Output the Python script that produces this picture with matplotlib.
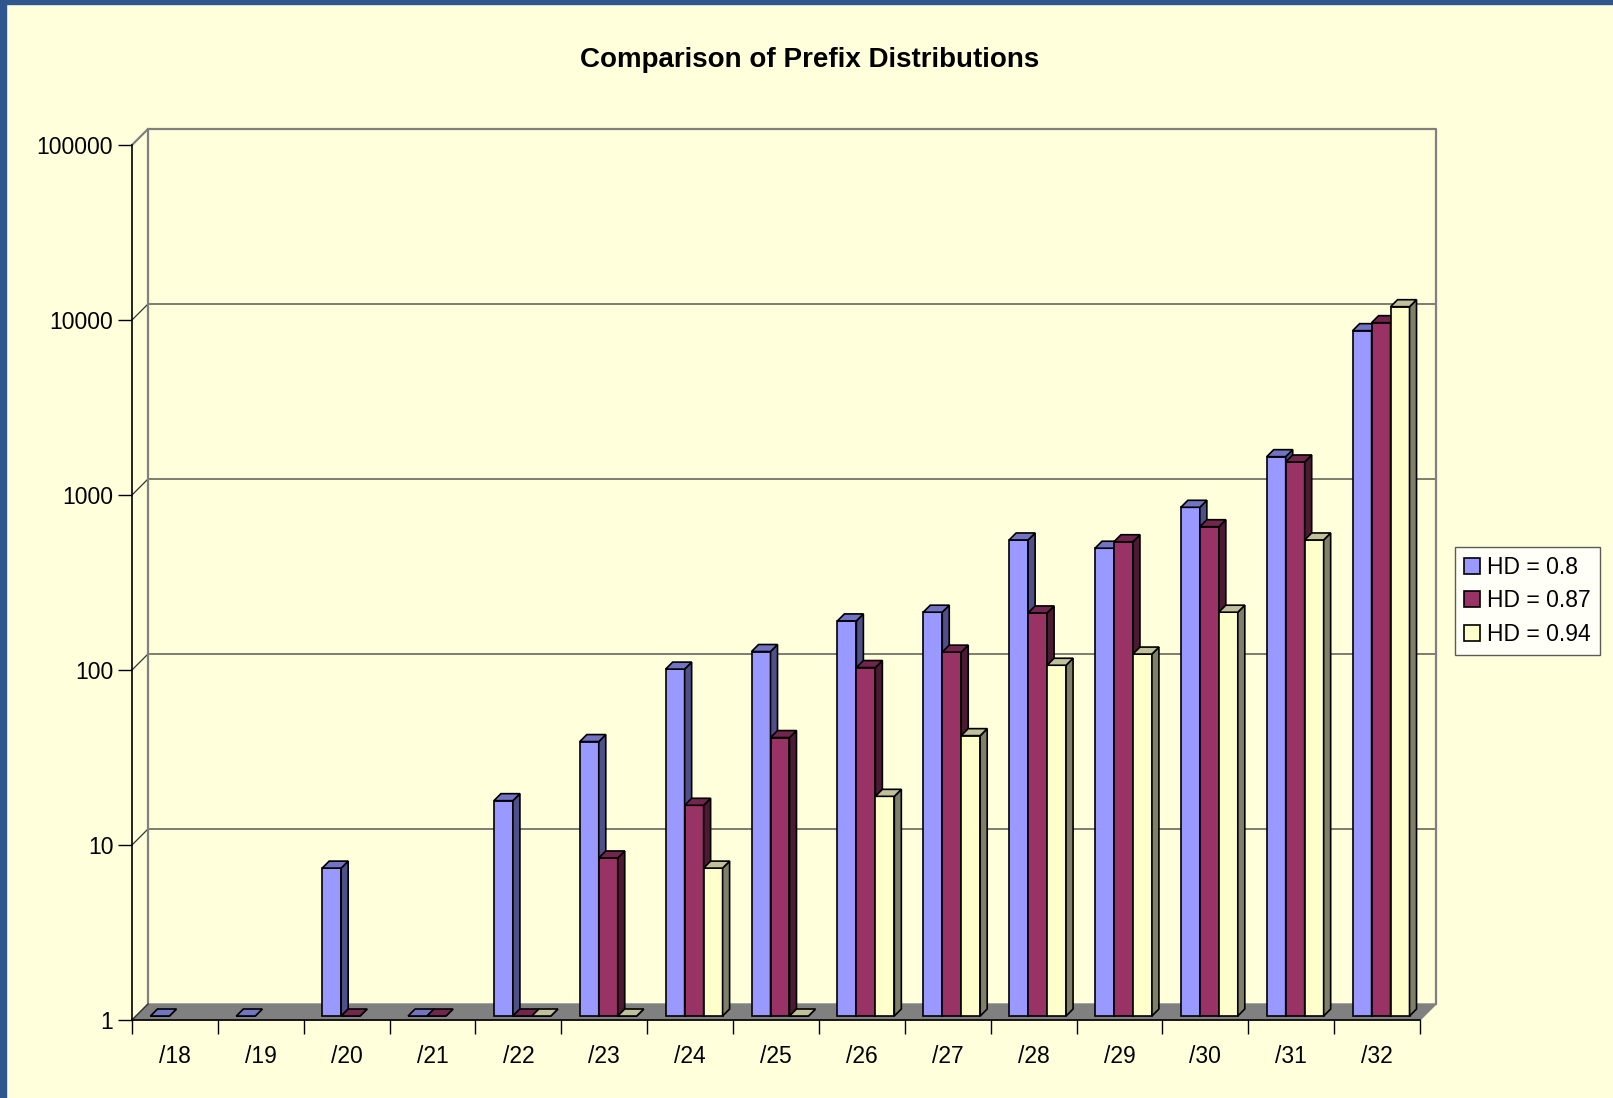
import numpy as np
import matplotlib
matplotlib.use('Agg')
import matplotlib.pyplot as plt
from matplotlib.patches import Polygon, Rectangle, Patch
from matplotlib.lines import Line2D
from matplotlib.transforms import IdentityTransform, ScaledTranslation
from matplotlib.ticker import LogLocator, NullLocator, FuncFormatter

prefixes = ['/18', '/19', '/20', '/21', '/22', '/23', '/24', '/25',
            '/26', '/27', '/28', '/29', '/30', '/31', '/32']
hd_080 = [1, 1, 7, 1, 17, 37, 96, 121, 181, 203, 525, 471, 807, 1571, 8245]
hd_087 = [np.nan, np.nan, 1, 1, 1, 8, 16, 39, 98, 120, 201, 513, 625, 1465, 9159]
hd_094 = [np.nan, np.nan, np.nan, np.nan, 1, 1, 7, 1, 18, 40, 101, 117, 203, 525, 11300]
series = [hd_080, hd_087, hd_094]
labels = ['HD = 0.8', 'HD = 0.87', 'HD = 0.94']

front_cols = ['#9999FF', '#993366', '#FFFFCC']
side_cols = ['#4F4F8A', '#4C1A33', '#80806A']
top_cols = ['#7373C4', '#73264D', '#C0C09A']

plt.rcParams['font.family'] = ['Liberation Sans', 'DejaVu Sans']

bg = '#FFFFDC'
W, H = 1613, 1098
fig = plt.figure(figsize=(W / 100, H / 100), dpi=100, facecolor=bg)
ax = fig.add_axes([132 / W, 78 / H, 1288 / W, 875 / H])
ax.set_yscale('log')
n = len(prefixes)
ax.set_xlim(0, n)
ax.set_ylim(1, 1e5)
ax.set_autoscale_on(False)
ax.patch.set_visible(False)
ax.spines['top'].set_visible(False)
ax.spines['right'].set_visible(False)
ax.spines['left'].set_linewidth(1.2)
ax.spines['bottom'].set_linewidth(1.2)

# depth offsets in pixels
wall_d = 16
bar_d0, bar_d1 = 4, 11


def disp(x, y, d):
    px, py = ax.transData.transform((x, y))
    return (px + d, py + d)


def poly(pts, **kw):
    p = Polygon(pts, closed=True, transform=IdentityTransform(), clip_on=False, **kw)
    ax.add_artist(p)


def line(pts, **kw):
    xs = [p[0] for p in pts]
    ys = [p[1] for p in pts]
    ax.add_artist(Line2D(xs, ys, transform=IdentityTransform(), clip_on=False, **kw))


# floor
poly([disp(0, 1, 0), disp(n, 1, 0), disp(n, 1, wall_d), disp(0, 1, wall_d)],
     facecolor='#808080', edgecolor='#808080', lw=1, zorder=1)

# gridlines along left wall and back wall
for d in [10, 100, 1000, 10000]:
    line([disp(0, d, 0), disp(0, d, wall_d), disp(n, d, wall_d)],
         color='#333333', lw=0.9, zorder=1.5)

# wall edges
line([disp(0, 1e5, 0), disp(0, 1e5, wall_d), disp(n, 1e5, wall_d), disp(n, 1, wall_d)],
     color='#808080', lw=1.6, zorder=1.6)
line([disp(0, 1, wall_d), disp(0, 1e5, wall_d)], color='#808080', lw=1.6, zorder=1.6)
line([disp(0, 1, 0), disp(0, 1, wall_d)], color='#333333', lw=1, zorder=1.6)

# bars
bw = 0.221
front_trf = ax.transData + ScaledTranslation(bar_d0 / 100, bar_d0 / 100, fig.dpi_scale_trans)
dd = bar_d1 - bar_d0
for k, vals in enumerate(series):
    vals = np.array(vals, dtype=float)
    ok = ~np.isnan(vals)
    xc = np.arange(n)[ok] + 0.5 + (k - 1) * bw
    v = vals[ok]
    ax.bar(xc, v - 1, bottom=1, width=bw, color=front_cols[k], edgecolor='black',
           lw=1.2, transform=front_trf, zorder=3 + k, clip_on=False)
    for x, h in zip(xc, v):
        x0, x1 = x - bw / 2, x + bw / 2
        # side face
        a = disp(x1, 1, bar_d0)
        b = disp(x1, h, bar_d0)
        poly([a, b, (b[0] + dd, b[1] + dd), (a[0] + dd, a[1] + dd)],
             facecolor=side_cols[k], edgecolor='black', lw=1.2, zorder=3 + k)
        # top face
        c = disp(x0, h, bar_d0)
        poly([c, b, (b[0] + dd, b[1] + dd), (c[0] + dd, c[1] + dd)],
             facecolor=top_cols[k], edgecolor='black', lw=1.2, zorder=3 + k)

# ticks
ax.yaxis.set_major_locator(LogLocator(base=10))
ax.yaxis.set_minor_locator(NullLocator())
ax.yaxis.set_major_formatter(FuncFormatter(lambda v, _: f'{int(round(v))}'))
ax.tick_params(axis='y', length=10, width=1, pad=3.5, labelsize=16.5, colors='black')
ax.set_xticks(np.arange(n + 1))
ax.set_xticklabels([])
ax.set_xticks(np.arange(n) + 0.5, minor=True)
ax.set_xticklabels(prefixes, minor=True)
ax.tick_params(axis='x', which='major', length=10, width=1)
ax.tick_params(axis='x', which='minor', length=0, pad=18, labelsize=16.5)

fig.text(810 / W, 1 - 60 / H, 'Comparison of Prefix Distributions', ha='center',
         va='center', fontsize=20, fontweight='bold')

handles = [Patch(facecolor=front_cols[k], edgecolor='black', lw=1.2) for k in range(3)]
leg = fig.legend(handles, labels, loc='upper left', bbox_to_anchor=(1455 / W, 1 - 547 / H),
                 fontsize=16.5, frameon=True, fancybox=False, handlelength=0.7,
                 handleheight=0.7, handletextpad=0.3, labelspacing=0.45, borderpad=0.4,
                 borderaxespad=0)
leg.get_frame().set_edgecolor('#333333')
leg.get_frame().set_facecolor('white')
leg.get_frame().set_linewidth(1)

# frame of the slide
fig.patches.append(Rectangle((0, 0), 6 / W, 1, transform=fig.transFigure, color='#30568F'))
fig.patches.append(Rectangle((0, 1 - 4 / H), 1, 4 / H, transform=fig.transFigure, color='#30568F'))

fig.savefig('out.png', dpi=100, facecolor=bg)
